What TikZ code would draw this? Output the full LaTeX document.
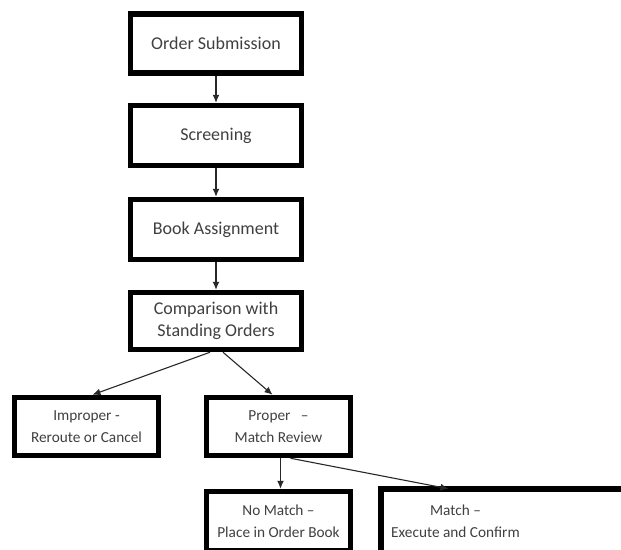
\documentclass[tikz,border=0pt]{standalone}
\usepackage{fontspec}
\setmainfont{Carlito}
\usetikzlibrary{arrows.meta,calc}
\definecolor{txt}{RGB}{64,64,64}
\definecolor{ln}{RGB}{40,40,40}
\begin{document}
\begin{tikzpicture}[x=1pt,y=-1pt,
  boxline/.style={draw=black,line width=5.5pt},
  stepbox/.style={boxline,fill=white,text=txt,
    inner sep=0pt,align=center,font=\fontsize{18}{22}\selectfont},
  small/.style={font=\fontsize{15.3}{21.5}\selectfont},
  wide/.style={minimum width=171pt,minimum height=59pt},
  half/.style={minimum width=144pt,minimum height=58pt},
  flow/.style={draw=ln,line width=1.1pt,-{Latex[length=8pt,width=7pt]}}]
\useasboundingbox (0,0) rectangle (621,549);
\clip (0,0) rectangle (621,549);
% main column
\node[stepbox,wide] (sub) at (216,43.5) {Order Submission};
\node[stepbox,wide,minimum height=60pt] (scr) at (216,135.5) {Screening};
\node[stepbox,wide,minimum height=60pt] (book) at (216,229.5) {Book Assignment};
\node[stepbox,wide,minimum height=57pt] (cmp) at (216,321) {Comparison with\\Standing Orders};
% outcome of the comparison
\node[stepbox,small,half] (imp) at (86.5,426.5) {Improper -\\Reroute or Cancel};
\node[stepbox,small,half] (prop) at (278.5,426.5) {Proper\ \ \ –\\Match Review};
% outcome of the match review
\node[stepbox,small,half,minimum height=59pt] (nom) at (278.5,521) {No Match –\\Place in Order Book};
\node[stepbox,small,half,draw=none,fill=none,minimum height=59pt] (mat) at (455.5,521) {Match –\\Execute and Confirm};
\draw[boxline,line join=miter] (mat.south west) -- (mat.north west) -- ($(mat.north east)+(120,0)$);
% connectors
\draw[flow] (sub.south) -- (scr.north);
\draw[flow] (scr.south) -- (book.north);
\draw[flow] (book.south) -- (cmp.north);
\draw[flow] ($(cmp.south)+(-6,0)$) -- ($(imp.north)+(6,0)$);
\draw[flow] ($(cmp.south)+(7,0)$) -- ($(prop.north)+(-6,0)$);
\draw[flow] ($(prop.south)+(2,0)$) -- ($(nom.north)+(2,0)$);
\draw[flow] ($(prop.south)+(12,0)$) -- ($(mat.north)+(-7,0)$);
\end{tikzpicture}
\end{document}
